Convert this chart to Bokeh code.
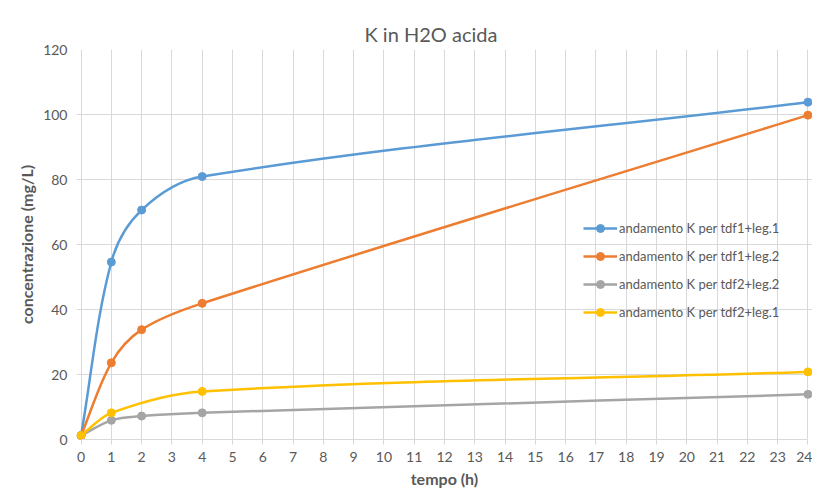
import numpy as np
from bokeh.plotting import figure
from bokeh.models import Range1d, FixedTicker, Legend, LegendItem, ColumnDataSource
from bokeh.embed import file_html
from bokeh.resources import INLINE

# ---------------- data ----------------
title_text = "K in H2O acida"
x_label = "tempo (h)"
y_label = "concentrazione (mg/L)"
x_ticks = list(range(0, 25))
y_ticks = [0, 20, 40, 60, 80, 100, 120]

series_names = [
    "andamento K per tdf1+leg.1",
    "andamento K per tdf1+leg.2",
    "andamento K per tdf2+leg.2",
    "andamento K per tdf2+leg.1",
]
tempo_a = [0, 1, 2, 4, 24]
tdf1_leg1 = [1.2, 54.6, 70.6, 80.9, 103.8]
tdf1_leg2 = [1.2, 23.6, 33.8, 41.9, 99.8]
tdf2_leg2 = [1.2, 5.9, 7.2, 8.2, 13.9]
tempo_b = [0, 1, 4, 24]
tdf2_leg1 = [1.2, 8.2, 14.8, 20.8]

colors = ["#5b9bd5", "#ed7d31", "#a5a5a5", "#ffc000"]

# ---------------- layout ----------------
W, H = 812, 497
MB_L, MB_R, MB_T, MB_B = 76, 0, 49, 58
frame_w = W - MB_L - MB_R
frame_h = H - MB_T - MB_B
XPAD = 0.15
x0, x1 = -XPAD, 24 + XPAD
y0, y1 = 0, 120
sx = frame_w / (x1 - x0)
sy = frame_h / (y1 - y0)

FONT = "Lato"
TXT = "#595959"


def smooth_segments(xs, ys):
    """Excel-like smoothed line: cubic Bezier segments through the data points."""
    P = np.column_stack([np.asarray(xs, float) * sx, np.asarray(ys, float) * sy])
    n = len(P)
    T = []
    for i in range(n):
        a = P[max(i - 1, 0)]
        b = P[min(i + 1, n - 1)]
        t = b - a
        T.append(t / np.linalg.norm(t))
    seg = dict(x0=[], y0=[], x1=[], y1=[], cx0=[], cy0=[], cx1=[], cy1=[])
    for i in range(n - 1):
        d = np.linalg.norm(P[i + 1] - P[i])
        c0 = P[i] + T[i] * d / 3.0
        c1 = P[i + 1] - T[i + 1] * d / 3.0
        seg["x0"].append(P[i][0] / sx); seg["y0"].append(P[i][1] / sy)
        seg["x1"].append(P[i + 1][0] / sx); seg["y1"].append(P[i + 1][1] / sy)
        seg["cx0"].append(c0[0] / sx); seg["cy0"].append(c0[1] / sy)
        seg["cx1"].append(c1[0] / sx); seg["cy1"].append(c1[1] / sy)
    return seg


p = figure(
    width=W, height=H,
    x_range=Range1d(x0, x1), y_range=Range1d(y0, y1),
    output_backend="svg", toolbar_location=None,
    min_border_left=MB_L, min_border_right=MB_R,
    min_border_top=MB_T, min_border_bottom=MB_B,
    title=title_text,
)
p.outline_line_color = None
p.background_fill_color = "white"
p.border_fill_color = "white"

p.title.align = "left"
p.title.offset = 288
p.title.text_font = FONT
p.title.text_font_style = "normal"
p.title.text_font_size = "20px"
p.title.text_color = TXT
p.title.standoff = 8

# axes
p.xaxis.ticker = FixedTicker(ticks=x_ticks)
p.yaxis.ticker = FixedTicker(ticks=y_ticks)
p.xaxis.bounds = (0, 24)
for ax in (p.xaxis[0], p.yaxis[0]):
    ax.major_label_text_font = FONT
    ax.major_label_text_font_size = "14px"
    ax.major_label_text_color = TXT
    ax.axis_label_text_font = FONT
    ax.axis_label_text_font_size = "16px"
    ax.axis_label_text_font_style = "bold"
    ax.axis_label_text_color = TXT
    ax.minor_tick_line_color = None

p.xaxis.axis_label = x_label
p.xaxis.axis_line_color = "#d9d9d9"
p.xaxis.major_tick_line_color = "#d9d9d9"
p.xaxis.major_tick_in = 0
p.xaxis.major_tick_out = 5
p.xaxis.major_label_standoff = 7
p.xaxis.axis_label_standoff = 4

p.yaxis.axis_label = y_label
p.yaxis.axis_line_color = None
p.yaxis.major_tick_line_color = None
p.yaxis.major_label_standoff = 3
p.yaxis.axis_label_standoff = 4

p.xgrid.ticker = FixedTicker(ticks=x_ticks)
p.ygrid.ticker = FixedTicker(ticks=y_ticks)
for g in (p.xgrid[0], p.ygrid[0]):
    g.grid_line_color = "#d9d9d9"
    g.grid_line_width = 1

# series
all_series = [
    (tempo_a, tdf1_leg1),
    (tempo_a, tdf1_leg2),
    (tempo_a, tdf2_leg2),
    (tempo_b, tdf2_leg1),
]
items = []
for (xs, ys), name, col in zip(all_series, series_names, colors):
    seg = ColumnDataSource(smooth_segments(xs, ys))
    r_line = p.bezier(x0="x0", y0="y0", x1="x1", y1="y1",
                      cx0="cx0", cy0="cy0", cx1="cx1", cy1="cy1",
                      source=seg, line_color=col, line_width=2.5)
    r_pts = p.scatter(xs, ys, size=8, marker="circle",
                      fill_color=col, line_color=col)
    items.append(LegendItem(label=name, renderers=[r_line, r_pts]))

legend = Legend(items=items, location=(507, 117))
legend.label_text_font = FONT
legend.label_text_font_size = "13px"
legend.label_text_color = TXT
legend.glyph_width = 34
legend.glyph_height = 20
legend.label_height = 20
legend.label_standoff = 2
legend.spacing = 8
legend.padding = 0
legend.margin = 0
legend.border_line_color = None
legend.background_fill_alpha = 0
p.add_layout(legend)

open("out.html", "w").write(file_html(p, INLINE))
